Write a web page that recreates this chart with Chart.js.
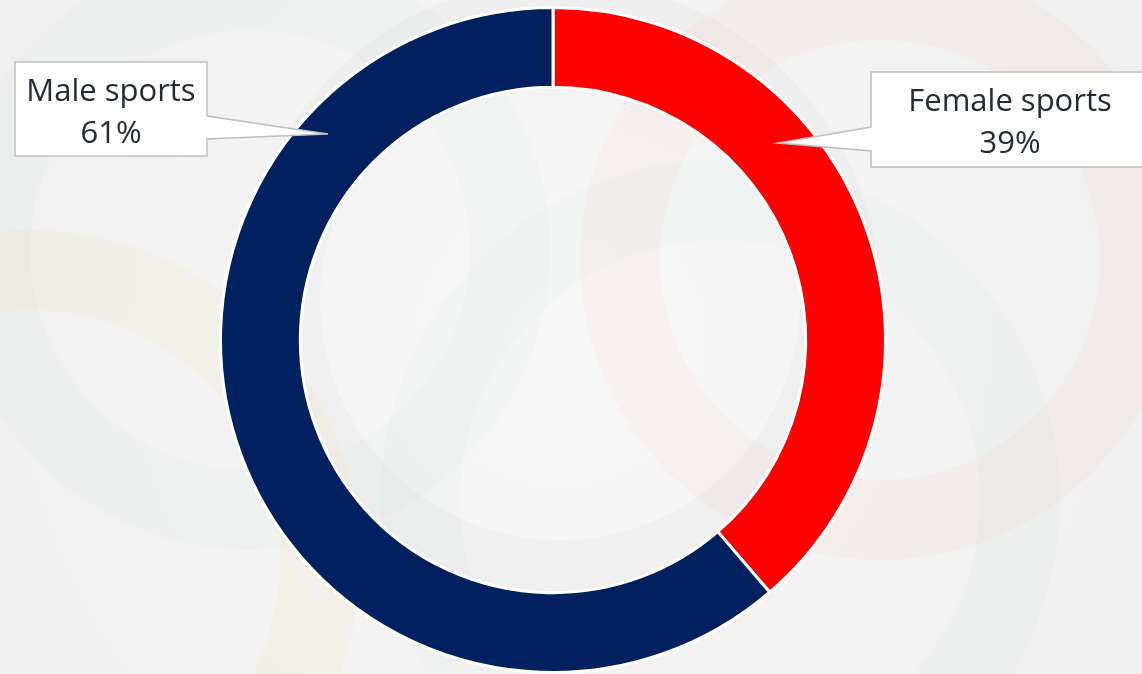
<!DOCTYPE html>
<html>
<head>
<meta charset="utf-8">
<script src="https://cdn.jsdelivr.net/npm/chart.js@4"></script>
<style>
  html, body { margin: 0; padding: 0; background: #f4f4f4; }
  #wrap { width: 1142px; height: 674px; position: relative; }
</style>
</head>
<body>
<div id="wrap"><canvas id="donut"></canvas></div>
<script>
const labels = ["Female sports", "Male sports"];
const shares = [38.7, 61.3];
const colors = ["#FF0000", "#002060"];

const FONT = "'Open Sans', 'Noto Sans', sans-serif";
const TEXT = "#252b36";

// faint olympic rings in the backdrop
const bgPlugin = {
  id: "bg",
  beforeDraw(chart) {
    const c = chart.ctx;
    c.save();
    const g = c.createRadialGradient(560, 340, 50, 560, 340, 700);
    g.addColorStop(0, "#f7f7f7");
    g.addColorStop(1, "#efefef");
    c.fillStyle = g;
    c.fillRect(0, 0, chart.width, chart.height);
    const rings = [
      { x: 250, y: 250, r: 260, col: "rgba(150,160,175,0.035)" },
      { x: 560, y: 300, r: 280, col: "rgba(60,60,60,0.025)" },
      { x: 880, y: 260, r: 260, col: "rgba(255,60,40,0.03)" },
      { x: 30, y: 560, r: 290, col: "rgba(255,190,60,0.05)" },
      { x: 720, y: 500, r: 300, col: "rgba(60,170,80,0.025)" },
    ];
    c.lineWidth = 80;
    rings.forEach(rg => {
      c.strokeStyle = rg.col;
      c.beginPath();
      c.arc(rg.x, rg.y, rg.r, 0, Math.PI * 2);
      c.stroke();
    });
    c.restore();
  },
};

// PowerPoint-style callout labels
const calloutPos = [
  { box: [871, 72, 278, 95], base: [127, 151], tip: [778, 143] },
  { box: [15, 62, 192, 94], base: [116, 139], tip: [328, 134] },
];

const calloutPlugin = {
  id: "callouts",
  afterDatasetsDraw(chart) {
    const c = chart.ctx;
    const data = chart.data.datasets[0].data;
    c.save();
    calloutPos.forEach((p, i) => {
      const [bx, by, bw, bh] = p.box;
      const rightSide = p.tip[0] > bx + bw;
      const ex = rightSide ? bx + bw : bx;
      c.beginPath();
      c.moveTo(bx, by);
      c.lineTo(bx + bw, by);
      if (rightSide) {
        c.lineTo(ex, p.base[0]);
        c.lineTo(p.tip[0], p.tip[1]);
        c.lineTo(ex, p.base[1]);
      }
      c.lineTo(bx + bw, by + bh);
      c.lineTo(bx, by + bh);
      if (!rightSide) {
        c.lineTo(ex, p.base[1]);
        c.lineTo(p.tip[0], p.tip[1]);
        c.lineTo(ex, p.base[0]);
      }
      c.closePath();
      c.fillStyle = "#ffffff";
      c.fill();
      c.strokeStyle = "#bfbfbf";
      c.lineWidth = 1.5;
      c.stroke();

      const cx = bx + bw / 2;
      c.fillStyle = TEXT;
      c.font = "31px " + FONT;
      c.textAlign = "center";
      c.textBaseline = "alphabetic";
      c.fillText(chart.data.labels[i], cx, by + 39);
      c.fillText(Math.round(data[i]) + "%", cx, by + 81);
    });
    c.restore();
  },
};

new Chart(document.getElementById("donut"), {
  type: "doughnut",
  data: {
    labels,
    datasets: [{
      data: shares,
      backgroundColor: colors,
      borderColor: "#ffffff",
      borderWidth: 3,
    }],
  },
  options: {
    responsive: true,
    maintainAspectRatio: false,
    animation: false,
    cutout: "76%",
    layout: { padding: { top: 6, bottom: 0, left: 0, right: 36 } },
    plugins: {
      legend: { display: false },
      tooltip: { enabled: false },
    },
  },
  plugins: [bgPlugin, calloutPlugin],
});
</script>
</body>
</html>
